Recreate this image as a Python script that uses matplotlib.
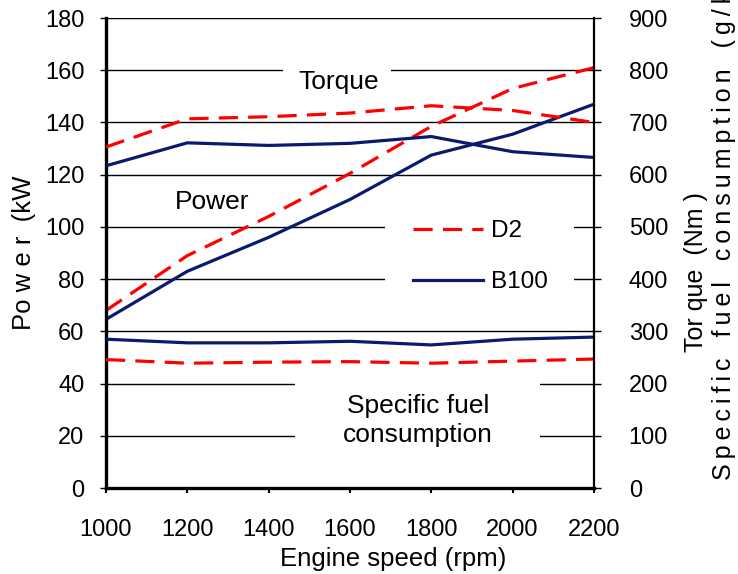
import matplotlib
matplotlib.use("Agg")
import matplotlib.pyplot as plt
from matplotlib.patches import Rectangle

plt.rcParams["font.family"] = ["Liberation Sans", "DejaVu Sans"]

# engine speed (rpm)
rpm = [1000, 1200, 1400, 1600, 1800, 2000, 2200]

# power, left axis (kW)
power_d2 = [68, 89, 104, 120.5, 138.5, 153, 161]
power_b100 = [64.6, 83, 96, 110.5, 127.5, 135.5, 147]

# torque (Nm) and specific fuel consumption, right axis
torque_d2 = [653, 707, 711, 718, 732, 723, 700]
torque_b100 = [617, 661, 656, 660, 673, 644, 633]
sfc_d2 = [246, 239, 241, 242, 239, 243, 247]
sfc_b100 = [285, 278, 278, 281, 274, 285, 289]

RED = "#FF0000"
NAVY = "#0A1A6E"
DASH = (6, 3.2)
TS = "\u2009"  # thin space, for the letter-spaced axis title

fig = plt.figure(figsize=(7.38, 5.74), dpi=100)
ax = fig.add_axes([0.1436, 0.1498, 0.6612, 0.8188])
ax2 = ax.twinx()

d2_line, = ax.plot(rpm, power_d2, color=RED, lw=2.3, dashes=DASH, label="D2")
b100_line, = ax.plot(rpm, power_b100, color=NAVY, lw=2.3, label="B100")
ax2.plot(rpm, torque_d2, color=RED, lw=2.3, dashes=DASH)
ax2.plot(rpm, torque_b100, color=NAVY, lw=2.3)
ax2.plot(rpm, sfc_d2, color=RED, lw=2.3, dashes=DASH)
ax2.plot(rpm, sfc_b100, color=NAVY, lw=2.3)

ax.set_xlim(1000, 2200)
ax.set_ylim(0, 180)
ax2.set_ylim(0, 900)
ax.set_xticks(range(1000, 2201, 200))
ax.set_yticks(range(0, 181, 20))
ax2.set_yticks(range(0, 901, 100))

ax.yaxis.grid(True, color="black", lw=1.0)
ax.set_axisbelow(True)

# white blocks that break the gridlines behind the labels
for x0, x1, y0, y1 in [(1435, 1701, 150, 170), (1465, 2067, 10, 50), (1685, 2150, 70, 110)]:
    ax.add_patch(Rectangle((x0, y0), x1 - x0, y1 - y0, facecolor="white",
                           edgecolor="none", zorder=1))

ax.text(1573, 152.7, "Torque", fontsize=19, ha="center", va="baseline", zorder=3)
ax.text(1261, 106.8, "Power", fontsize=19, ha="center", va="baseline", zorder=3)
ax.text(1767, 28.7, "Specific fuel", fontsize=19, ha="center", va="baseline", zorder=3)
ax.text(1767, 17.6, "consumption", fontsize=19, ha="center", va="baseline", zorder=3)

ax.legend([d2_line, b100_line], ["D2", "B100"], loc="upper left",
          bbox_to_anchor=(0.629, 0.570), frameon=False, fontsize=17.5,
          handlelength=2.88, handletextpad=0.35, labelspacing=1.19,
          borderpad=0, borderaxespad=0)

for s in ["top", "right"]:
    ax.spines[s].set_visible(False)
for s in ["top", "left", "bottom"]:
    ax2.spines[s].set_visible(False)
ax.spines["left"].set_linewidth(2.4)
ax.spines["bottom"].set_linewidth(2.4)
ax2.spines["right"].set_linewidth(1.6)

ax.tick_params(axis="y", direction="out", length=4.5, width=1.0, labelsize=17, pad=11)
ax.tick_params(axis="x", direction="out", length=3.5, width=1.5, labelsize=17, pad=18.5)
ax2.tick_params(axis="y", direction="out", length=5, width=1.0, labelsize=17, pad=20)

fig.text(24 / 738, 1 - 330 / 574, "Po w e r  (kW", rotation=90, fontsize=18.5,
         ha="center", va="bottom")
fig.text(696 / 738, 1 - 352 / 574, "Tor que  (Nm )", rotation=90, fontsize=18,
         ha="center", va="bottom")
sfc_title = "   ".join(TS.join(w) for w in ["Specific", "fuel", "consumption", "(g/kWh)"])
fig.text(724 / 738, 1 - 480 / 574, sfc_title, rotation=90, fontsize=18,
         ha="center", va="bottom")
fig.text(393 / 738, 1 - 559 / 574, "Engine speed (rpm)", fontsize=18.5,
         ha="center", va="center")

fig.savefig("out.png", dpi=100)
